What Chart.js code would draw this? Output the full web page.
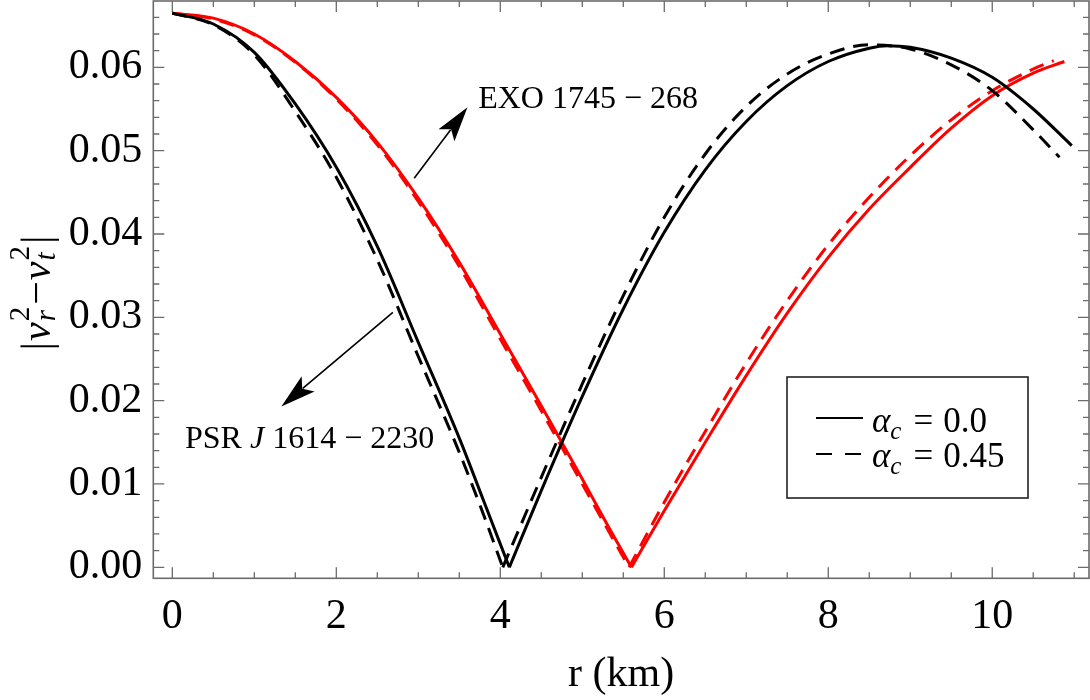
<!DOCTYPE html>
<html>
<head>
<meta charset="utf-8">
<title>|v_r^2 - v_t^2| against r</title>
<script src="https://cdn.jsdelivr.net/npm/chart.js@4.4.0/dist/chart.umd.min.js"></script>
<style>
  html, body { margin: 0; padding: 0; background: #fff; }
  #chart { display: block; }
</style>
</head>
<body>
<canvas id="chart" width="1090" height="700"></canvas>
<script>
// r (km) and |v_r^2 - v_t^2|
// PSR J1614-2230, alpha_c = 0.0 (black, solid)
const rPsr0 = [0, 0.5, 1.0, 1.5, 2.0, 2.5, 3.0, 3.5, 3.8, 4.11, 4.5, 5.0, 5.5, 6.0, 6.5, 7.0, 7.5, 8.0, 8.5, 8.72, 9.0, 9.5, 10.0, 10.5, 10.97];
const vPsr0 = [0.0665, 0.0652, 0.0618, 0.0556, 0.0480, 0.0385, 0.0270, 0.0155, 0.0079, 0, 0.0092, 0.0205, 0.0310, 0.0402, 0.0477, 0.0535, 0.0578, 0.0607, 0.0623, 0.0626, 0.0624, 0.0611, 0.0588, 0.0550, 0.0506];
// PSR J1614-2230, alpha_c = 0.45 (black, dashed)
const rPsr45 = [0, 0.5, 1.0, 1.5, 2.0, 2.5, 3.0, 3.5, 3.8, 4.03, 4.5, 5.0, 5.5, 6.0, 6.5, 7.0, 7.5, 8.0, 8.5, 9.0, 9.5, 10.0, 10.5, 10.82];
const vPsr45 = [0.0665, 0.0651, 0.0615, 0.0547, 0.0468, 0.0369, 0.0253, 0.0138, 0.0062, 0, 0.0108, 0.0220, 0.0326, 0.0420, 0.0496, 0.0553, 0.0592, 0.0616, 0.0627, 0.0622, 0.0603, 0.0572, 0.0525, 0.0492];
// EXO 1745-268, alpha_c = 0.0 (red, solid)
const rExo0 = [0, 0.5, 1.0, 1.5, 2.0, 2.5, 3.0, 3.5, 4.0, 4.5, 5.0, 5.3, 5.60, 6.0, 6.5, 7.0, 7.5, 8.0, 8.5, 9.0, 9.5, 10.0, 10.5, 10.88];
const vExo0 = [0.0665, 0.0659, 0.0640, 0.0607, 0.0564, 0.0510, 0.0443, 0.0366, 0.0280, 0.0194, 0.0106, 0.0052, 0, 0.0068, 0.0150, 0.0230, 0.0305, 0.0372, 0.0430, 0.0480, 0.0527, 0.0566, 0.0593, 0.0607];
// EXO 1745-268, alpha_c = 0.45 (red, dashed)
const rExo45 = [0, 0.5, 1.0, 1.5, 2.0, 2.5, 3.0, 3.5, 4.0, 4.5, 5.0, 5.3, 5.57, 6.0, 6.5, 7.0, 7.5, 8.0, 8.5, 9.0, 9.5, 10.0, 10.5, 10.75];
const vExo45 = [0.0665, 0.0658, 0.0639, 0.0606, 0.0562, 0.0507, 0.0439, 0.0361, 0.0274, 0.0188, 0.0100, 0.0047, 0, 0.0078, 0.0163, 0.0245, 0.0320, 0.0387, 0.0444, 0.0494, 0.0537, 0.0572, 0.0598, 0.0608];

const xTicks = [0, 2, 4, 6, 8, 10];
const yTicks = [0, 0.01, 0.02, 0.03, 0.04, 0.05, 0.06];
const alphaLabels = ['0.0', '0.45'];

const serif = "'Liberation Serif', 'Times New Roman', serif";
const frameColor = '#6b6b6b';
const dash = [15, 9];

// pieces of text with italics, sub- and superscripts
function font(size, italic) {
  return (italic ? 'italic ' : '') + size + 'px ' + serif;
}
function drawRich(ctx, parts, x, y) {
  parts.forEach(p => {
    if (p.stack) {
      ctx.font = font(p.size, false);
      const w1 = ctx.measureText(p.sup).width;
      ctx.fillText(p.sup, x, y + p.supDy);
      ctx.font = font(p.size, true);
      const w2 = ctx.measureText(p.sub).width;
      ctx.fillText(p.sub, x, y + p.subDy);
      x += Math.max(w1, w2) + (p.gap || 0);
    } else {
      ctx.font = font(p.size, p.italic);
      ctx.fillText(p.t, x + (p.pre || 0), y + (p.dy || 0));
      x += ctx.measureText(p.t).width + (p.pre || 0) + (p.gap || 0);
    }
  });
  return x;
}
function richWidth(ctx, parts) {
  let w = 0;
  parts.forEach(p => {
    if (p.stack) {
      ctx.font = font(p.size, false);
      const w1 = ctx.measureText(p.sup).width;
      ctx.font = font(p.size, true);
      w += Math.max(w1, ctx.measureText(p.sub).width) + (p.gap || 0);
    } else {
      ctx.font = font(p.size, p.italic);
      w += ctx.measureText(p.t).width + (p.pre || 0) + (p.gap || 0);
    }
  });
  return w;
}

function arrow(ctx, x0, y0, x1, y1) {
  const a = Math.atan2(y1 - y0, x1 - x0);
  const L = 35, W = 10;
  ctx.beginPath();
  ctx.moveTo(x0, y0);
  ctx.lineTo(x1 - Math.cos(a) * L * 0.8, y1 - Math.sin(a) * L * 0.8);
  ctx.stroke();
  ctx.save();
  ctx.translate(x1, y1);
  ctx.rotate(a);
  ctx.beginPath();
  ctx.moveTo(0, 0);
  ctx.lineTo(-L, -W);
  ctx.lineTo(-L * 0.78, 0);
  ctx.lineTo(-L, W);
  ctx.closePath();
  ctx.fill();
  ctx.restore();
}

// frame and inward ticks on all four sides
const framePlugin = {
  id: 'frame',
  beforeDatasetsDraw(chart) {
    const ctx = chart.ctx;
    const { left, right, top, bottom } = chart.chartArea;
    const xs = chart.scales.x, ys = chart.scales.y;
    ctx.save();
    ctx.strokeStyle = frameColor;
    ctx.lineWidth = 1.3;
    ctx.beginPath();
    for (let k = 0; k <= 24; k++) {
      const px = xs.getPixelForValue(k * 0.5);
      if (px < left || px > right) continue;
      const len = k % 4 === 0 ? 11 : 6;
      ctx.moveTo(px, bottom); ctx.lineTo(px, bottom - len);
      ctx.moveTo(px, top); ctx.lineTo(px, top + len);
    }
    for (let k = 0; k <= 40; k++) {
      const py = ys.getPixelForValue(k * 0.002);
      if (py < top || py > bottom) continue;
      const len = k % 5 === 0 ? 11 : 6;
      ctx.moveTo(left, py); ctx.lineTo(left + len, py);
      ctx.moveTo(right, py); ctx.lineTo(right - len, py);
    }
    ctx.stroke();
    ctx.lineWidth = 1.6;
    ctx.strokeRect(left, top, right - left, bottom - top);
    ctx.restore();
  }
};

// axis title, annotations and legend
const notesPlugin = {
  id: 'notes',
  afterDatasetsDraw(chart) {
    const ctx = chart.ctx;
    const xs = chart.scales.x, ys = chart.scales.y;
    const X = v => xs.getPixelForValue(v), Y = v => ys.getPixelForValue(v);
    ctx.save();
    ctx.fillStyle = '#000';
    ctx.strokeStyle = '#000';
    ctx.textBaseline = 'alphabetic';
    ctx.textAlign = 'left';

    // y axis title |v_r^2 - v_t^2|
    const yTitle = [
      { t: '|', size: 42, italic: false, gap: 1 },
      { t: 'v', size: 42, italic: true, gap: 1 },
      { stack: true, sup: '2', sub: 'r', size: 29, supDy: -21, subDy: 5, gap: 2 },
      { t: '\u2212', size: 42, italic: false, gap: 1 },
      { t: 'v', size: 42, italic: true, gap: 1 },
      { stack: true, sup: '2', sub: 't', size: 29, supDy: -21, subDy: 5, gap: 2 },
      { t: '|', size: 42, italic: false }
    ];
    ctx.save();
    ctx.translate(50, 293);
    ctx.rotate(-Math.PI / 2);
    drawRich(ctx, yTitle, -richWidth(ctx, yTitle) / 2, 0);
    ctx.restore();

    // annotations
    ctx.lineWidth = 1.6;
    arrow(ctx, X(2.95), Y(0.0467), X(3.60), Y(0.0552));
    arrow(ctx, X(2.69), Y(0.0306), X(1.33), Y(0.0193));
    drawRich(ctx, [{ t: 'EXO 1745 \u2212 268', size: 32 }], X(3.73), Y(0.0551));
    drawRich(ctx, [
      { t: 'PSR ', size: 32 },
      { t: 'J', size: 32, italic: true },
      { t: ' 1614 \u2212 2230', size: 32 }
    ], X(0.155), Y(0.0143));

    // legend
    ctx.fillStyle = '#fff';
    ctx.fillRect(787, 377, 241, 121);
    ctx.fillStyle = '#000';
    ctx.lineWidth = 1.6;
    ctx.strokeStyle = '#222';
    ctx.strokeRect(787, 377, 241, 121);
    ctx.strokeStyle = '#000';
    ctx.lineWidth = 2;
    [[], [16, 13]].forEach((d, i) => {
      const yy = 418 + i * 36;
      ctx.setLineDash(d);
      ctx.beginPath();
      ctx.moveTo(816, yy); ctx.lineTo(863, yy);
      ctx.stroke();
      ctx.setLineDash([]);
      drawRich(ctx, [
        { t: '\u03b1', size: 35, italic: true },
        { t: 'c', size: 25, italic: true, dy: 7 },
        { t: '=', size: 35, pre: 12 },
        { t: alphaLabels[i], size: 35, pre: 10 }
      ], 872, 432 + i * 35);
    });
    ctx.restore();
  }
};

// each curve is drawn as two branches that meet at its zero, so the
// kink stays sharp
function branches(label, rs, vs, color, dashed) {
  const z = vs.indexOf(0);
  const parts = [[0, z + 1], [z, rs.length]];
  return parts.map(([a, b], i) => ({
    label: label + (i ? ' (outer)' : ' (inner)'),
    data: rs.slice(a, b).map((r, j) => ({ x: r, y: vs[a + j] })),
    borderColor: color,
    borderWidth: 3,
    borderDash: dashed ? dash : [],
    pointRadius: 0,
    fill: false,
    cubicInterpolationMode: 'monotone'
  }));
}

new Chart(document.getElementById('chart'), {
  type: 'line',
  data: {
    datasets: [
      ...branches('PSR J1614-2230, alpha_c = 0.0', rPsr0, vPsr0, '#000000', false),
      ...branches('PSR J1614-2230, alpha_c = 0.45', rPsr45, vPsr45, '#000000', true),
      ...branches('EXO 1745-268, alpha_c = 0.0', rExo0, vExo0, '#ff0000', false),
      ...branches('EXO 1745-268, alpha_c = 0.45', rExo45, vExo45, '#ff0000', true)
    ]
  },
  options: {
    responsive: false,
    animation: false,
    devicePixelRatio: 1,
    layout: { padding: { top: 1, right: 1, left: 0, bottom: 0 } },
    plugins: { legend: { display: false }, tooltip: { enabled: false } },
    scales: {
      x: {
        type: 'linear',
        min: -0.232,
        max: 11.18,
        grid: { display: false, drawTicks: false },
        border: { display: false },
        afterBuildTicks: s => { s.ticks = xTicks.map(v => ({ value: v })); },
        afterFit: s => { s.height = 121.7; s.paddingLeft = 0; s.paddingRight = 0; },
        ticks: {
          color: '#000',
          padding: 13,
          maxRotation: 0,
          autoSkip: false,
          font: { family: serif, size: 42 },
          callback: v => String(v)
        },
        title: {
          display: true,
          text: 'r (km)',
          color: '#000',
          padding: { top: 0, bottom: 0 },
          font: { family: serif, size: 42 }
        }
      },
      y: {
        type: 'linear',
        min: -0.00132,
        max: 0.06796,
        grid: { display: false, drawTicks: false },
        border: { display: false },
        afterBuildTicks: s => { s.ticks = yTicks.map(v => ({ value: v })); },
        afterFit: s => { s.width = 153.3; s.paddingTop = 0; s.paddingBottom = 0; },
        ticks: {
          color: '#000',
          padding: 11,
          autoSkip: false,
          font: { family: serif, size: 42 },
          callback: v => v.toFixed(2)
        }
      }
    }
  },
  plugins: [framePlugin, notesPlugin]
});
</script>
</body>
</html>
